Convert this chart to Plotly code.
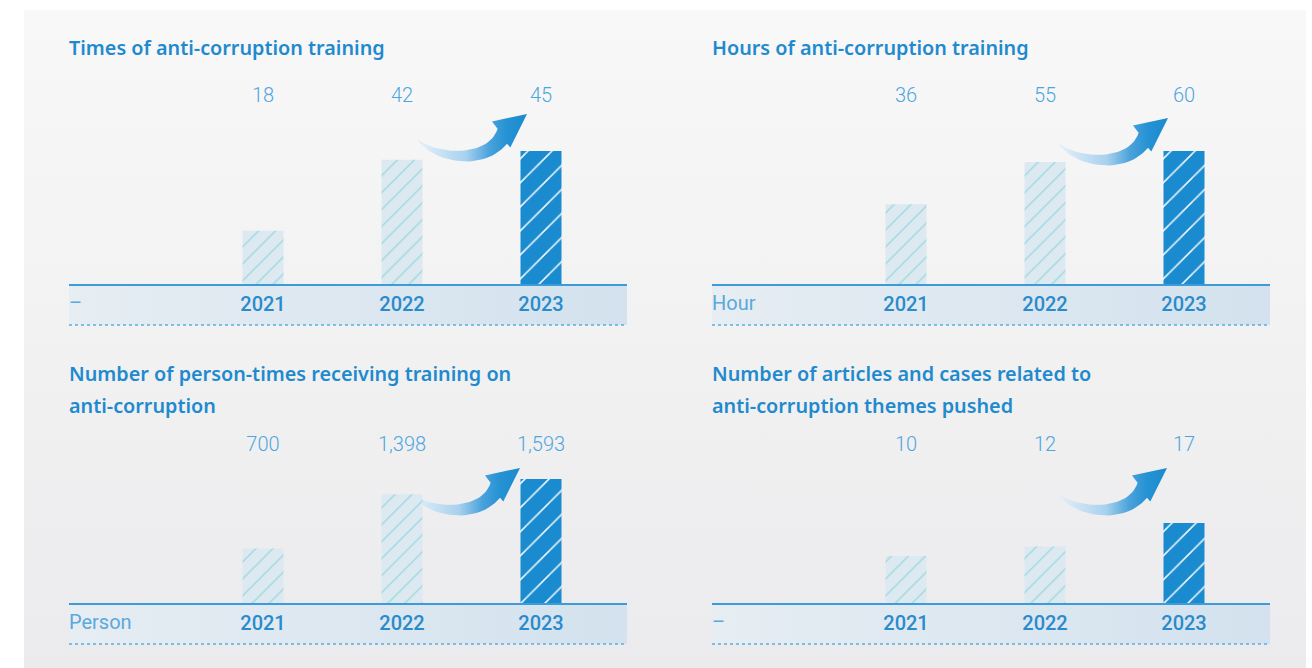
import plotly.graph_objects as go

# ---------------- data ----------------
years = ["2021", "2022", "2023"]
times_training = [18, 42, 45]
hours_training = [36, 55, 60]
person_times = [700, 1398, 1593]
articles_cases = [10, 12, 17]

title_lines = [
    ["Times of anti-corruption training"],
    ["Hours of anti-corruption training"],
    ["Number of person-times receiving training on", "anti-corruption"],
    ["Number of articles and cases related to", "anti-corruption themes pushed"],
]
units = ["–", "Hour", "Person", "–"]
series = [times_training, hours_training, person_times, articles_cases]

# ---------------- layout geometry (pixels) ----------------
W, H = 1312, 668
PANEL_W = 558
BAND_H = 41
panels = [(69, 284), (712, 284), (69, 603), (712, 603)]   # left, baseline
title_y = [(47,), (47,), (373, 405), (373, 405)]
value_y = [97, 97, 446, 446]
max_bar_px = [133, 133, 124, 80]
cat_first = 194      # px from panel left to first category centre
cat_step = 139       # px between categories
arrow_tips = [(527, 114), (1168, 118), (520, 468), (1167, 468)]

BLUE = "#1a8bcf"
TITLE_C = "#1f8ace"
VAL_C = "#4fa6de"
YEAR_C = "#2a8bcc"
UNIT_C = "#5aa8dc"
LIGHT_BG = "#dde9f1"
LIGHT_FG = "#8fd5dd"

fig = go.Figure()

# background overlay axis in pixel coordinates
fig.update_layout(
    xaxis=dict(domain=[0, 1], range=[0, W], visible=False, fixedrange=True),
    yaxis=dict(domain=[0, 1], range=[H, 0], visible=False, fixedrange=True),
)

def poly(xs, ys, **kw):
    fig.add_trace(go.Scatter(x=xs, y=ys, xaxis="x", yaxis="y", mode="lines",
                             fill="toself", line=dict(width=0), hoverinfo="skip",
                             showlegend=False, **kw))

# panel background
poly([24, 1306, 1306, 24, 24], [10, 10, H, H, 10],
     fillgradient=dict(type="vertical", start=10, stop=H,
                       colorscale=[[0, "#f8f8f8"], [1, "#ebebed"]]))

# bands + dotted lines
for (L, base) in panels:
    poly([L, L + PANEL_W, L + PANEL_W, L, L], [base, base, base + BAND_H, base + BAND_H, base],
         fillgradient=dict(type="horizontal", start=L, stop=L + PANEL_W,
                           colorscale=[[0, "#e6edf3"], [1, "#d3e2ee"]]))
    fig.add_trace(go.Scatter(x=[L, L + PANEL_W], y=[base + BAND_H, base + BAND_H],
                             xaxis="x", yaxis="y", mode="lines",
                             line=dict(color="#5aaee0", width=1.3, dash="dot"),
                             hoverinfo="skip", showlegend=False))

# curved arrows (local shape, tip at origin, y down)
def bez(p0, p1, p2, p3, n=30):
    pts = []
    for i in range(n + 1):
        t = i / n
        a = (1 - t) ** 3
        b = 3 * (1 - t) ** 2 * t
        c = 3 * (1 - t) * t ** 2
        d = t ** 3
        pts.append((a * p0[0] + b * p1[0] + c * p2[0] + d * p3[0],
                    a * p0[1] + b * p1[1] + c * p2[1] + d * p3[1]))
    return pts

T = (-110.7, 24)
U = (-29.4, 14.7)
Lj = (-20, 29.7)
A = (-35, 7.4)
B = (-16.7, 33.4)
lower = bez(T, (-98, 47), (-45, 60), Lj)
upper = bez(U, (-38, 43), (-90, 42), T)
shape = lower + [B, (0, 0), A] + upper
for (tx, ty) in arrow_tips:
    xs = [tx + p[0] for p in shape]
    ys = [ty + p[1] for p in shape]
    poly(xs, ys, fillgradient=dict(type="horizontal", start=tx - 111, stop=tx,
                                   colorscale=[[0, "#e8f2fa"], [0.45, "#a8d1ee"],
                                               [0.66, "#4aa2dc"], [0.82, "#2592d3"],
                                               [1, "#1a8bcf"]]))

# ---------------- bar panels ----------------
annotations = []
for i, ((L, base), vals) in enumerate(zip(panels, series)):
    k = i + 2
    xa, ya = f"xaxis{k}", f"yaxis{k}"
    xr = [-cat_first / cat_step, (PANEL_W - cat_first) / cat_step]
    per_px = max(vals) / max_bar_px[i]          # value units per pixel
    top_px = value_y[i] - 16                    # plot area extends up to the label row
    ymax = per_px * (base - top_px)
    fig.update_layout(**{
        xa: dict(domain=[L / W, (L + PANEL_W) / W], anchor=f"y{k}", type="category",
                 categoryorder="array", categoryarray=years,
                 range=xr, showline=True, linecolor="#3d9bd7", linewidth=1.5,
                 showgrid=False, zeroline=False, ticks="", fixedrange=True,
                 ticklabelstandoff=1,
                 tickfont=dict(family="Roboto", size=20, color=YEAR_C, weight=500)),
        ya: dict(domain=[1 - base / H, 1 - top_px / H], anchor=f"x{k}",
                 range=[0, ymax], visible=False, showgrid=False, zeroline=False,
                 fixedrange=True),
    })
    # earlier years: pale hatched bars
    fig.add_trace(go.Bar(
        x=years[:-1], y=vals[:-1], xaxis=f"x{k}", yaxis=f"y{k}", width=41 / cat_step,
        marker=dict(color=LIGHT_BG, line=dict(width=0),
                    pattern=dict(shape="/", fillmode="overlay", bgcolor=LIGHT_BG,
                                 fgcolor=LIGHT_FG, fgopacity=1, size=12, solidity=0.1)),
        hoverinfo="skip", showlegend=False))
    # latest year: solid blue hatched bar
    fig.add_trace(go.Bar(
        x=years[-1:], y=vals[-1:], xaxis=f"x{k}", yaxis=f"y{k}", width=41 / cat_step,
        marker=dict(color=BLUE, line=dict(width=0),
                    pattern=dict(shape="/", fillmode="overlay", bgcolor=BLUE,
                                 fgcolor="#ffffff", fgopacity=0.95, size=17, solidity=0.09)),
        hoverinfo="skip", showlegend=False))
    # value labels in a fixed row above the bars
    label_y = per_px * (base - value_y[i])
    fig.add_trace(go.Scatter(
        x=years, y=[label_y] * len(vals), xaxis=f"x{k}", yaxis=f"y{k}",
        mode="text", text=[f"{v:,}" for v in vals], textposition="middle center",
        hoverinfo="skip", showlegend=False,
        textfont=dict(family="Roboto", size=20, color=VAL_C, weight=300)))
    # titles
    for ln, ty in zip(title_lines[i], title_y[i]):
        annotations.append(dict(x=L / W, xref="paper", y=1 - ty / H, yref="paper",
                                text=ln, showarrow=False, xanchor="left", yanchor="middle",
                                xshift=-2,
                                font=dict(family="Noto Sans", size=19.8, color=TITLE_C,
                                          weight=600)))
    # unit label
    annotations.append(dict(x=L / W, xref="paper", y=1 - (base + 19) / H, yref="paper",
                            text=units[i], showarrow=False, xanchor="left", yanchor="middle",
                            xshift=-2,
                            font=dict(family="Roboto", size=20, color=UNIT_C, weight=400)))

fig.update_layout(
    width=W, height=H, margin=dict(l=0, r=0, t=0, b=0),
    paper_bgcolor="#ffffff", plot_bgcolor="rgba(0,0,0,0)",
    barmode="overlay",
    hovermode=False, showlegend=False, annotations=annotations,
)

fig.write_html("out.html", config={"displayModeBar": False})
